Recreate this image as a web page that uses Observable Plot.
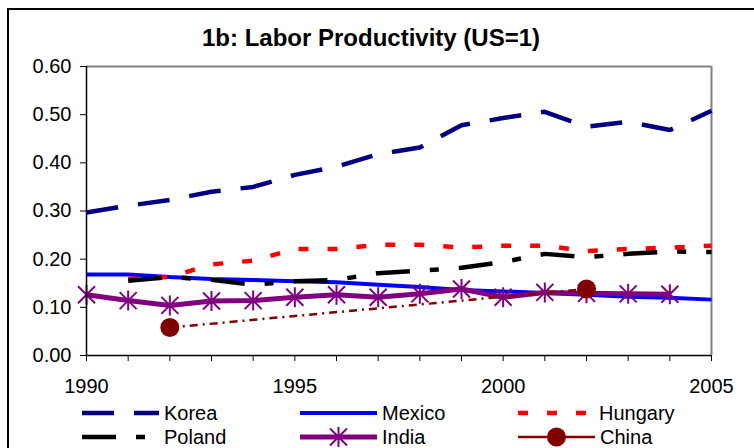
<!DOCTYPE html>
<html><head><meta charset="utf-8">
<script src="https://cdn.jsdelivr.net/npm/d3@7"></script>
<script src="https://cdn.jsdelivr.net/npm/@observablehq/plot@0.6"></script>
<style>
html,body{margin:0;padding:0;background:#fff;overflow:hidden;width:754px;height:448px;}
#frame{position:absolute;left:7px;top:8px;width:900px;height:600px;border:2px solid #000;box-sizing:border-box;}
#chart{position:absolute;left:0;top:0;}
#title{position:absolute;left:0;top:24px;width:742px;text-align:center;font-family:"Liberation Sans",Arial,sans-serif;font-weight:bold;font-size:24px;line-height:28px;}
#legend{position:absolute;left:0;top:0;width:754px;height:448px;font-family:"Liberation Sans",Arial,sans-serif;font-size:20px;}
.item{position:absolute;display:flex;align-items:center;height:24px;}
.item svg{display:block;margin-right:5px;}
</style></head><body>
<div id="frame"></div><div id="chart"></div><div id="title">1b: Labor Productivity (US=1)</div><div id="legend"></div>
<script>
const years = [1990,1991,1992,1993,1994,1995,1996,1997,1998,1999,2000,2001,2002,2003,2004,2005];
const korea   = [0.297,0.311,0.323,0.340,0.350,0.375,0.392,0.418,0.432,0.478,0.493,0.506,0.475,0.485,0.468,0.508];
const mexico  = [0.168,0.168,0.163,0.159,0.157,0.154,0.152,0.147,0.142,0.136,0.133,0.130,0.126,0.122,0.120,0.116];
const hungary = [null,0.159,0.163,0.189,0.197,0.221,0.221,0.230,0.230,0.224,0.228,0.228,0.217,0.221,0.224,0.228];
const poland  = [null,0.155,0.163,0.157,0.147,0.154,0.157,0.171,0.176,0.182,0.194,0.211,0.204,0.211,0.216,0.215];
const india   = [0.126,0.114,0.104,0.113,0.114,0.121,0.126,0.121,0.128,0.138,0.121,0.131,0.129,0.128,0.127,null];
const chinaYears = [1992,2002];
const china   = [0.058,0.138];
const yTicks = [0,0.1,0.2,0.3,0.4,0.5,0.6];
const xLabels = [1990,1995,2000,2005];

const series = [
  {name:"Korea",   ys:years, vs:korea,   stroke:"#000080", width:4.5, dash:"32,20"},
  {name:"Mexico",  ys:years, vs:mexico,  stroke:"#0000FF", width:4,   dash:null},
  {name:"Hungary", ys:years, vs:hungary, stroke:"#FF0000", width:4.5, dash:"10,19"},
  {name:"Poland",  ys:years, vs:poland,  stroke:"#000000", width:4.5, dash:"34,20,9,20"},
  {name:"India",   ys:years, vs:india,   stroke:"#800080", width:5,   dash:null, marker:"star"},
  {name:"China",   ys:chinaYears, vs:china, stroke:"#800000", width:2.5, dash:"8,5,2,5", marker:"circle"}
];

const starSymbol = {
  draw(ctx, size) {
    const a = 8.5, v = 10;
    ctx.moveTo(-a,-a); ctx.lineTo(a,a);
    ctx.moveTo(-a,a); ctx.lineTo(a,-a);
    ctx.moveTo(0,-v); ctx.lineTo(0,v);
  }
};

const marks = [];
marks.push(Plot.ruleY([0.6], {stroke:"#808080", strokeWidth:2}));
marks.push(Plot.ruleX([2005], {stroke:"#808080", strokeWidth:2}));
for (const s of series) {
  const data = s.ys.map((y,i)=>({x:y, v:s.vs[i]}));
  marks.push(Plot.line(data, {x:"x", y:"v", stroke:s.stroke, strokeWidth:s.width,
    strokeDasharray:s.dash || undefined, strokeLinejoin:"miter", strokeLinecap:"butt"}));
  if (s.marker === "star") {
    marks.push(Plot.dot(data.filter(d=>d.v!=null), {x:"x", y:"v", symbol:starSymbol, r:5, stroke:s.stroke, strokeWidth:2, fill:"none"}));
  } else if (s.marker === "circle") {
    marks.push(Plot.dot(data, {x:"x", y:"v", r:9.5, fill:s.stroke, stroke:"none"}));
  }
}
marks.push(Plot.ruleX([1990], {stroke:"#000", strokeWidth:1.5}));
marks.push(Plot.ruleY([0], {stroke:"#000", strokeWidth:1.5}));
marks.push(Plot.axisY({ticks:yTicks, tickFormat:d3.format(".2f"), tickSize:6, tickPadding:9, fontSize:20, label:null, stroke:"#000"}));
marks.push(Plot.axisX({ticks:years, tickFormat:d=> xLabels.includes(d) ? String(d) : "", tickSize:6, tickPadding:17, fontSize:20, label:null, stroke:"#000"}));

const chart = Plot.plot({
  width:754, height:400,
  marginLeft:86, marginRight:43, marginTop:66, marginBottom:45,
  x:{domain:[1990,2005], type:"linear"},
  y:{domain:[0,0.6]},
  style:{fontFamily:"Liberation Sans, Arial, sans-serif", background:"transparent", color:"#000"},
  marks
});
document.getElementById("chart").appendChild(chart);

const legendPos = {
  Korea:[82,413], Mexico:[300,413], Hungary:[518,413],
  Poland:[82,437], India:[300,437], China:[518,437]
};
const leg = d3.select("#legend");
for (const s of series) {
  const [lx, ly] = legendPos[s.name];
  const w = s.name==="Hungary" ? 70 : 77;
  const item = leg.append("div").attr("class","item").style("left", lx+"px").style("top", (ly-12)+"px");
  const svg = item.append("svg").attr("width", w + (s.name==="Hungary"?6:0)).attr("height",24);
  svg.append("line").attr("x1",0).attr("x2",w).attr("y1",12).attr("y2",12)
    .attr("stroke", s.stroke).attr("stroke-width", s.width)
    .attr("stroke-dasharray", s.name==="China" ? null : s.dash);
  if (s.marker === "star") {
    const p = d3.path(); starSymbol.draw(p, 0);
    svg.append("path").attr("d", p.toString()).attr("transform", `translate(${w/2},12)`)
      .attr("stroke", s.stroke).attr("stroke-width", 2).attr("fill","none");
  } else if (s.marker === "circle") {
    svg.append("circle").attr("cx", w/2).attr("cy",12).attr("r",9.5).attr("fill", s.stroke);
  }
  item.append("span").text(s.name);
}
</script>
</body></html>
